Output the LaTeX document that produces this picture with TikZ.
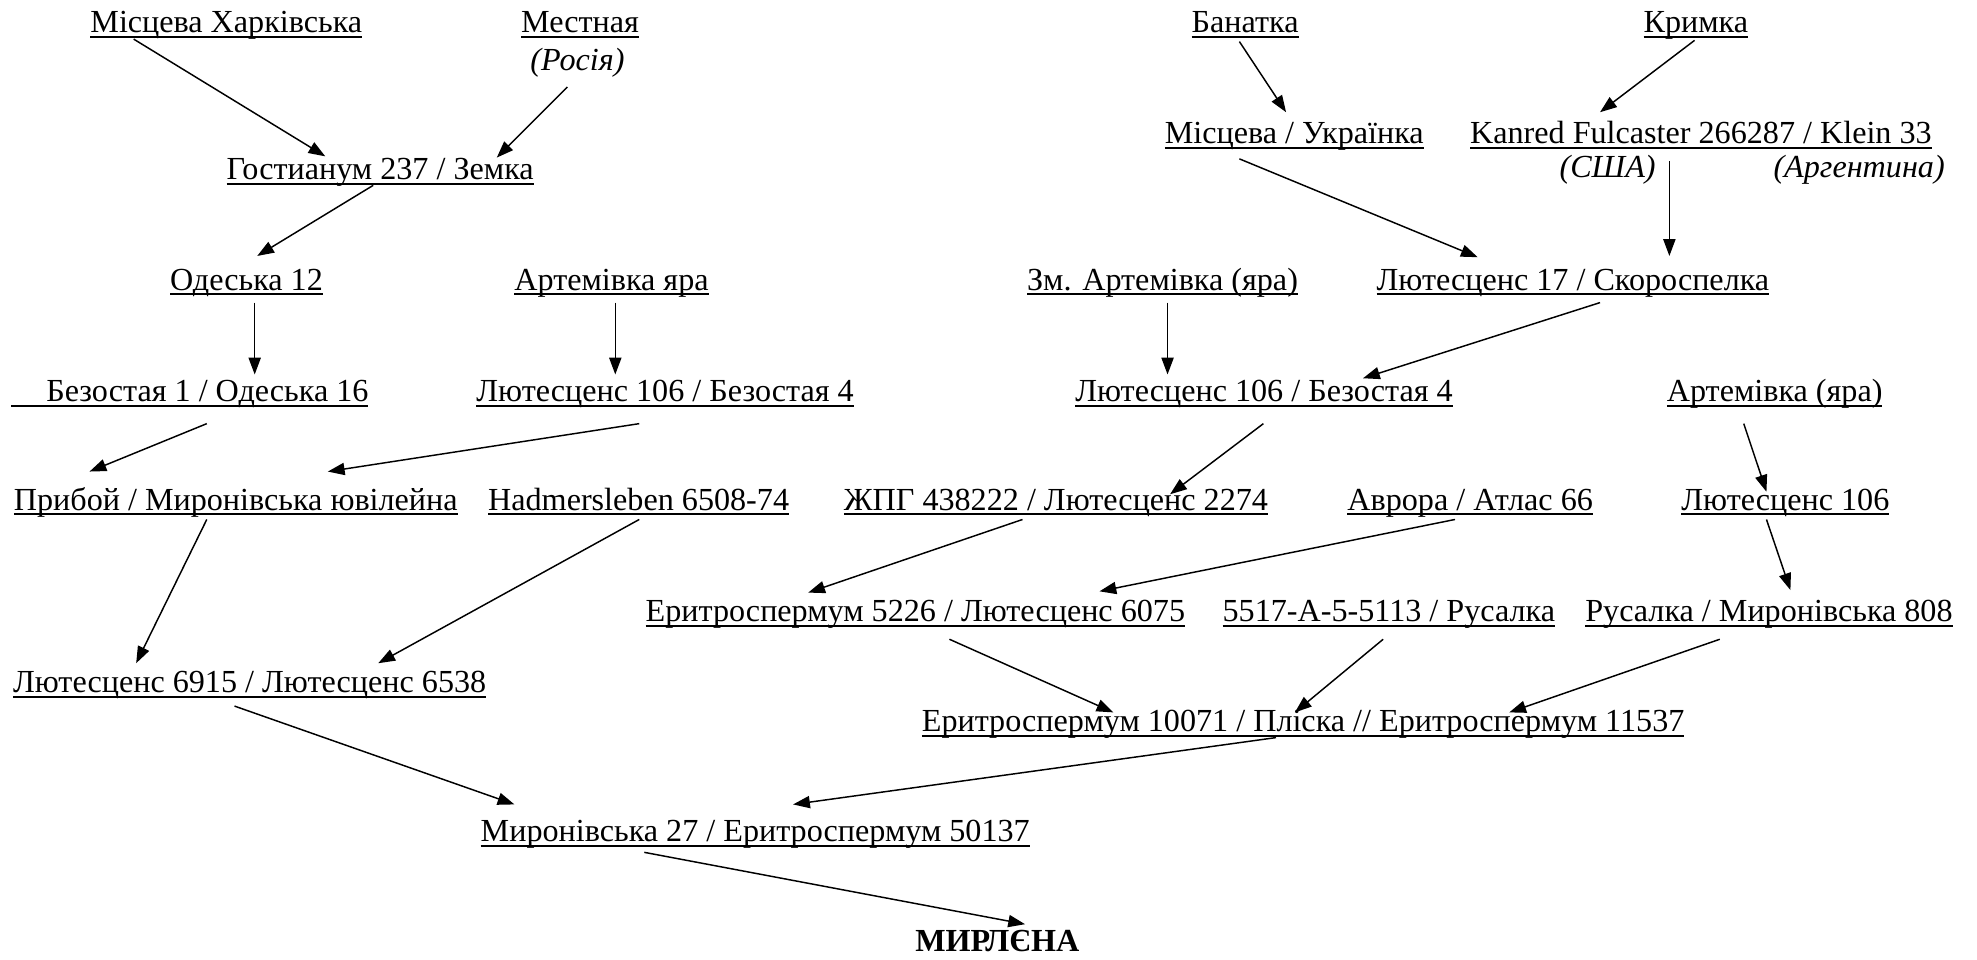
\documentclass[tikz,border=0pt]{standalone}
\usepackage{fontspec}
\setmainfont{Liberation Serif}
\usetikzlibrary{arrows.meta}

\newsavebox{\ulbox}
\newcommand{\ulvar}[1]{\sbox{\ulbox}{#1}\rlap{\rule[-2.6pt]{\wd\ulbox}{0.95pt}}\usebox{\ulbox}}

\begin{document}
\begin{tikzpicture}[
    x=0.6pt, y=-0.6pt,
    variety/.style={inner sep=0pt, anchor=base, font=\fontsize{15.3}{18}\selectfont},
    note/.style={variety, font=\fontsize{15.3}{18}\selectfont\itshape},
    result/.style={variety, font=\fontsize{15.3}{18}\selectfont\bfseries},
    arrow/.style={-{Triangle[length=8pt, width=5.8pt]}, line width=0.7pt},
]
\useasboundingbox (0,0) rectangle (1568,761);

% top rows
\node[variety] (mh)   at (179.5,26) {\ulvar{Місцева Харківська}};
\node[variety] (mest) at (460,26)   {\ulvar{Местная}};
\node[note]    (ros)  at (458,56)   {(Росія)};
\node[variety] (ban)  at (987.5,26) {\ulvar{Банатка}};
\node[variety] (krym) at (1345,26)  {\ulvar{Кримка}};

\node[variety] (gost) at (301.5,142.7) {\ulvar{Гостианум 237 / Земка}};
\node[variety] (mu)   at (1026.5,113.5) {\ulvar{Місцева / Українка}};
\node[variety] (kan)  at (1349,113.5)  {\ulvar{Kanred Fulcaster 266287 / Klein 33}};
\node[note]    (usa)  at (1275,141)    {(США)};
\node[note]    (arg)  at (1474.5,141)  {(Аргентина)};

\node[variety] (od12)  at (195.5,230)  {\ulvar{Одеська 12}};
\node[variety] (art1)  at (485,230)    {\ulvar{Артемівка яра}};
\node[variety] (zmart) at (922,230)    {\ulvar{Зм. Артемівка (яра)}};
\node[variety] (l17)   at (1247.5,230) {\ulvar{Лютесценс 17 / Скороспелка}};

\node[variety] (bez)   at (150.5,318.5)  {\ulvar{\hspace{16.8pt}Безостая 1 / Одеська 16}};
\node[variety] (l106a) at (527.5,318.5)  {\ulvar{Лютесценс 106 / Безостая 4}};
\node[variety] (l106b) at (1002.5,318.5) {\ulvar{Лютесценс 106 / Безостая 4}};
\node[variety] (art2)  at (1407.5,318.5) {\ulvar{Артемівка (яра)}};

\node[variety] (prib)  at (187,404.5)   {\ulvar{Прибой / Миронівська ювілейна}};
\node[variety] (hadm)  at (506.5,404.5) {\ulvar{Hadmersleben 6508-74}};
\node[variety] (zhpg)  at (837.5,404.5) {\ulvar{ЖПГ 438222 / Лютесценс 2274}};
\node[variety] (avr)   at (1166,404.5)  {\ulvar{Аврора / Атлас 66}};
\node[variety] (l106c) at (1416,404.5)  {\ulvar{Лютесценс 106}};

\node[variety] (e5226) at (726,493)    {\ulvar{Еритроспермум 5226 / Лютесценс 6075}};
\node[variety] (s5517) at (1101.5,493) {\ulvar{5517-А-5-5113 / Русалка}};
\node[variety] (rus)   at (1403,493)   {\ulvar{Русалка / Миронівська 808}};

\node[variety] (l6915)  at (198,549)    {\ulvar{Лютесценс 6915 / Лютесценс 6538}};
\node[variety] (e10071) at (1033.5,580) {\ulvar{Еритроспермум 10071 / Пліска // Еритроспермум 11537}};
\node[variety] (m27)    at (599,667.5)  {\ulvar{Миронівська 27 / Еритроспермум 50137}};
\node[result]  (mirl)   at (791,754.7)  {МИРЛЄНА};

% crosses
\draw[arrow] ([shift={(-73.5,5)}]mh.base)   -- ([shift={(-43.5,-18.7)}]gost.base);
\draw[arrow] ([shift={(-10,43)}]mest.base)  -- ([shift={(92.5,-17.7)}]gost.base);
\draw[arrow] ([shift={(-5.5,4.3)}]gost.base) -- ([shift={(8.5,-27)}]od12.base);
\draw[arrow] ([shift={(6.5,10)}]od12.base)  -- ([shift={(51.5,-21.5)}]bez.base);
\draw[arrow] ([shift={(3,10)}]art1.base)    -- ([shift={(-39.5,-21.5)}]l106a.base);
\draw[arrow] ([shift={(13.5,17.5)}]bez.base) -- ([shift={(-116,-30.5)}]prib.base);
\draw[arrow] ([shift={(-20.5,17.5)}]l106a.base) -- ([shift={(73,-30.5)}]prib.base);
\draw[arrow] ([shift={(-23,7.5)}]prib.base) -- ([shift={(-90,-23)}]l6915.base);
\draw[arrow] ([shift={(0.5,7.5)}]hadm.base) -- ([shift={(102,-23)}]l6915.base);

\draw[arrow] ([shift={(-4.5,7)}]ban.base)   -- ([shift={(-6.5,-24.5)}]mu.base);
\draw[arrow] ([shift={(-1,6)}]krym.base)    -- ([shift={(-80,-24.5)}]kan.base);
\draw[arrow] ([shift={(-43.5,12.5)}]mu.base) -- ([shift={(-75.5,-26)}]l17.base);
\draw[arrow] ([shift={(-25,14.5)}]kan.base) -- ([shift={(76.5,-27)}]l17.base);
\draw[arrow] ([shift={(4,10)}]zmart.base)   -- ([shift={(-76.5,-21.5)}]l106b.base);
\draw[arrow] ([shift={(21.5,10)}]l17.base)  -- ([shift={(78.5,-18.5)}]l106b.base);
\draw[arrow] ([shift={(-0.5,17.5)}]l106b.base) -- ([shift={(90.5,-12.5)}]zhpg.base);
\draw[arrow] ([shift={(-24.5,17.5)}]art2.base) -- ([shift={(-15,-14.5)}]l106c.base);
\draw[arrow] ([shift={(-26.5,7.5)}]zhpg.base) -- ([shift={(-85,-23)}]e5226.base);
\draw[arrow] ([shift={(-12,7.5)}]avr.base)  -- ([shift={(146,-24)}]e5226.base);
\draw[arrow] ([shift={(-15,7.5)}]l106c.base) -- ([shift={(17,-25)}]rus.base);
\draw[arrow] ([shift={(27,14)}]e5226.base)  -- ([shift={(-150.5,-15)}]e10071.base);
\draw[arrow] ([shift={(-4.5,14)}]s5517.base) -- ([shift={(-6.5,-15)}]e10071.base);
\draw[arrow] ([shift={(-39,14)}]rus.base)   -- ([shift={(163.5,-15)}]e10071.base);

\draw[arrow] ([shift={(-12,11)}]l6915.base) -- ([shift={(-191,-29.5)}]m27.base);
\draw[arrow] ([shift={(-21.5,5)}]e10071.base) -- ([shift={(30,-29.5)}]m27.base);
\draw[arrow] ([shift={(-88,8.5)}]m27.base)  -- ([shift={(22,-21.7)}]mirl.base);

\end{tikzpicture}
\end{document}
